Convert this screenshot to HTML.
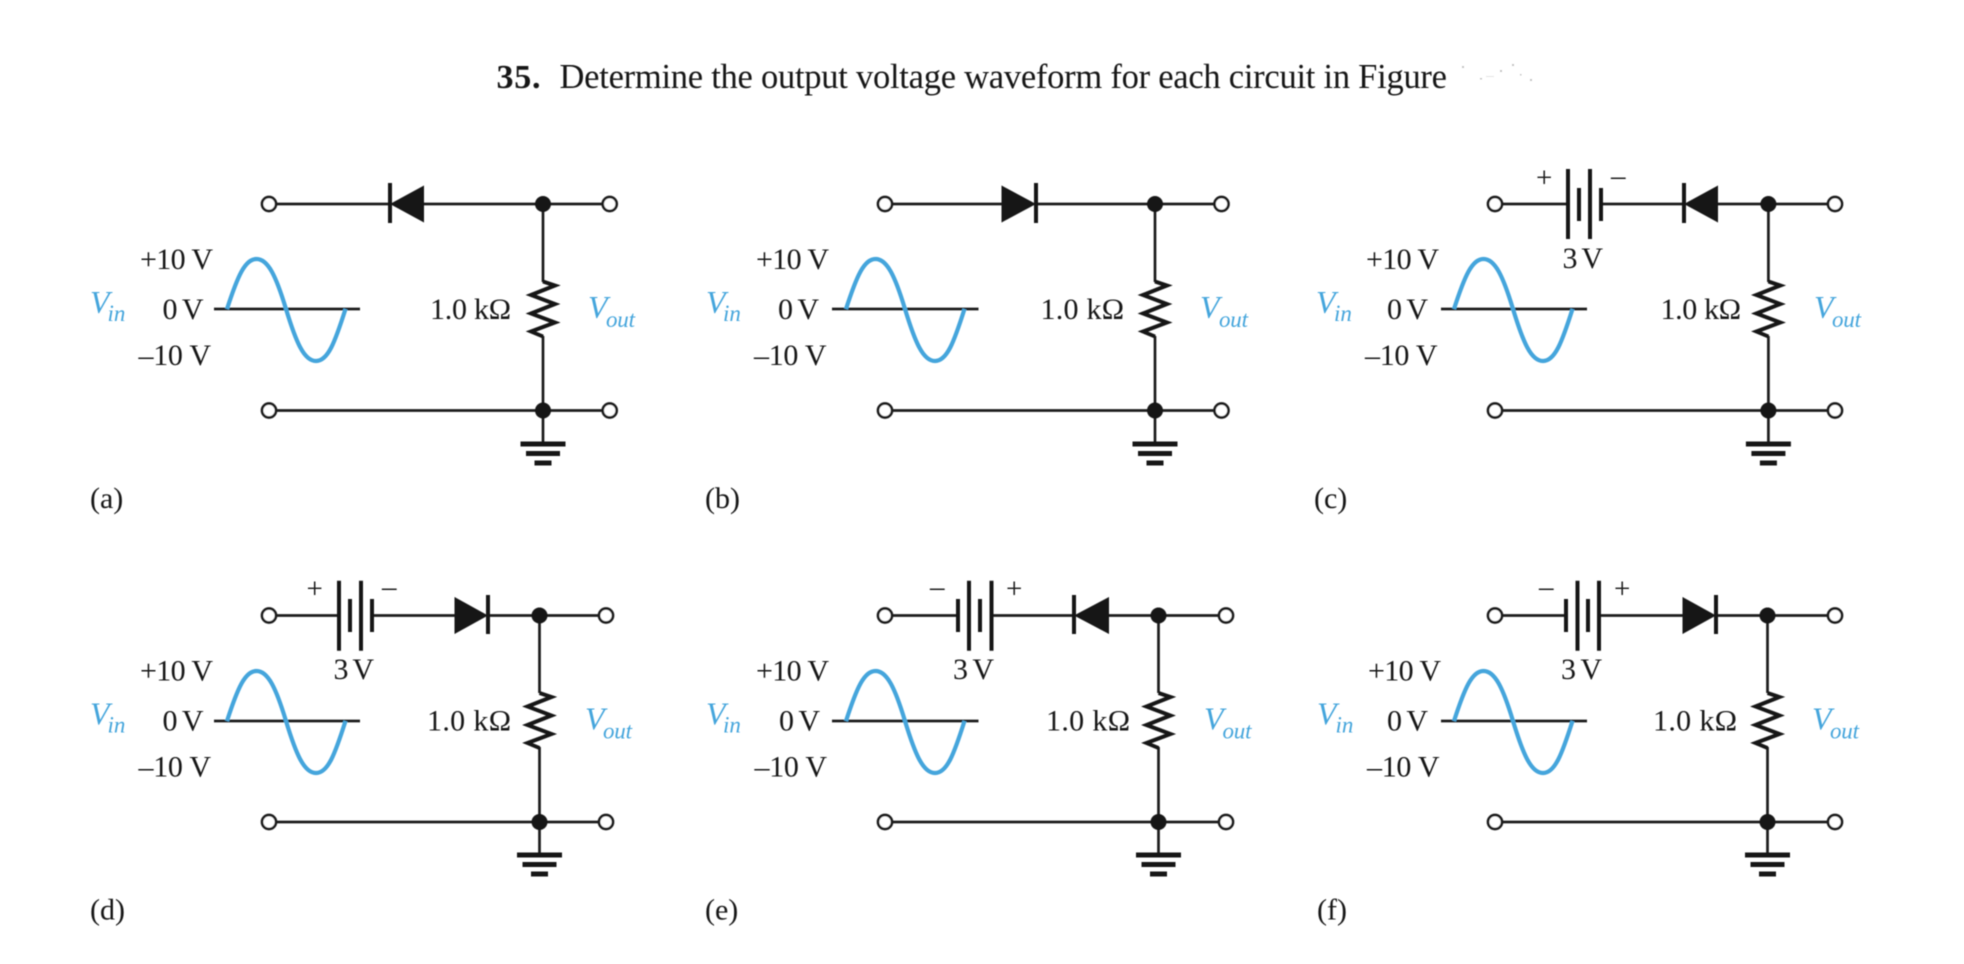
<!DOCTYPE html>
<html lang="en">
<head>
<meta charset="utf-8">
<title>Diode circuits</title>
<style>
html,body{margin:0;padding:0;background:#fff;}
svg{display:block;}
text{font-family:"Liberation Serif",serif;fill:#141414;font-size:30px;}
.b{fill:#45a5dc;font-style:italic;}
.v{font-size:32px;}
.s{font-size:23px;}
.w{fill:none;stroke:#1c1c1c;stroke-width:2.7;}
.p{fill:none;stroke:#141414;stroke-width:4;}
.t{fill:#fff;stroke:#1c1c1c;stroke-width:2.7;}
.d{fill:#141414;stroke:none;}
.sg{font-size:29px;}
</style>
</head>
<body>
<svg width="1964" height="964" viewBox="0 0 1964 964" xmlns="http://www.w3.org/2000/svg">
<defs>
<filter id="soft" x="0" y="0" width="100%" height="100%"><feGaussianBlur stdDeviation="0.45"/></filter>
<g id="res"><path d="M0 77.5 L12 81.5 L-12 91 L12 100 L-12 109.5 L12 118.5 L-12 127.5 L0 132.5" fill="none" stroke="#141414" stroke-width="3.9" stroke-linejoin="miter" stroke-miterlimit="6"/></g>
<g id="gnd"><rect x="-22.5" y="-0.5" width="45" height="5" fill="#141414"/><rect x="-17" y="9" width="34" height="5" fill="#141414"/><rect x="-8.5" y="18.5" width="17" height="5" fill="#141414"/></g>
<g id="sine"><path d="M0 0 C10.7 -33 18 -50 29.5 -50 S49 -33 59 0 S77 52 89 52 S108 33 118.5 0" fill="none" stroke="#45a5dc" stroke-width="4.2"/></g>
</defs>
<g filter="url(#soft)">
<text x="496.5" y="88" style="font-size:34px;font-weight:bold" textLength="44" lengthAdjust="spacing">35.</text>
<text x="559.5" y="88" style="font-size:34.5px" textLength="887.5" lengthAdjust="spacing">Determine the output voltage waveform for each circuit in Figure</text>
<g fill="#c4c4c4"><rect x="1462" y="66" width="2" height="2"/><rect x="1480" y="78" width="2" height="1.5"/><rect x="1500" y="70" width="2" height="2"/><rect x="1512" y="64" width="2" height="2"/><rect x="1530" y="79" width="2" height="2"/><rect x="1520" y="74" width="1.5" height="1.5"/><rect x="1486" y="76" width="8" height="1" fill="#e4e4e4"/></g>

<!-- (a) -->
<path class="w" d="M269 204H390M424 204H610M543 204V282M543 336V442M269 410.5H610M214 309H360"/>
<path class="p" d="M390 183V223"/>
<polygon class="d" points="390,204 424,185.5 424,222.5"/>
<use href="#res" x="543" y="204"/><use href="#gnd" x="543" y="442"/><use href="#sine" x="227" y="309"/>
<circle class="t" cx="269" cy="204" r="7"/><circle class="t" cx="609.7" cy="204" r="7"/><circle class="t" cx="269" cy="410.5" r="7"/><circle class="t" cx="609.7" cy="410.5" r="7"/>
<circle class="d" cx="543" cy="204" r="8"/><circle class="d" cx="543" cy="410.5" r="8"/>
<text x="140" y="269" textLength="73">+10 V</text><text x="162.5" y="319" textLength="41">0 V</text><text x="138.5" y="365" textLength="72.5">–10 V</text>
<text x="430" y="319" textLength="81">1.0 kΩ</text>
<text class="b v" x="90" y="313">V</text><text class="b s" x="107.5" y="321">in</text>
<text class="b v" x="588" y="318">V</text><text class="b s" x="606" y="327" textLength="29">out</text>
<text x="90" y="508">(a)</text>

<!-- (b) -->
<path class="w" d="M885 204H1002M1036 204H1221M1155 204V282M1155 336V442M885 410.5H1221M832 309H978.5"/>
<path class="p" d="M1036 183V223"/>
<polygon class="d" points="1001.5,185.5 1001.5,222.5 1036,204"/>
<use href="#res" x="1155" y="204"/><use href="#gnd" x="1155" y="442"/><use href="#sine" x="846" y="309"/>
<circle class="t" cx="885" cy="204" r="7"/><circle class="t" cx="1221.5" cy="204" r="7"/><circle class="t" cx="885" cy="410.5" r="7"/><circle class="t" cx="1221.5" cy="410.5" r="7"/>
<circle class="d" cx="1155" cy="204" r="8"/><circle class="d" cx="1155" cy="410.5" r="8"/>
<text x="756" y="269" textLength="73">+10 V</text><text x="778" y="319" textLength="41">0 V</text><text x="754" y="365" textLength="72.5">–10 V</text>
<text x="1040.5" y="319" textLength="83.5">1.0 kΩ</text>
<text class="b v" x="706" y="313">V</text><text class="b s" x="723" y="321">in</text>
<text class="b v" x="1200" y="318">V</text><text class="b s" x="1219" y="327" textLength="29">out</text>
<text x="705" y="508">(b)</text>

<!-- (c) -->
<path class="w" d="M1495 204H1568M1601 204H1684M1718 204H1835M1768.4 204V282M1768.4 336V442M1495 410.5H1835M1441 309H1587"/>
<path class="p" d="M1568 169V239M1590 169V239M1579 188V221M1601 188V221"/>
<path class="p" d="M1684 183V223"/>
<polygon class="d" points="1684,204 1718,185.5 1718,222.5"/>
<use href="#res" x="1768.4" y="204"/><use href="#gnd" x="1768.4" y="442"/><use href="#sine" x="1454" y="309"/>
<circle class="t" cx="1495" cy="204" r="7"/><circle class="t" cx="1835" cy="204" r="7"/><circle class="t" cx="1495" cy="410.5" r="7"/><circle class="t" cx="1835" cy="410.5" r="7"/>
<circle class="d" cx="1768.4" cy="204" r="8"/><circle class="d" cx="1768.4" cy="410.5" r="8"/>
<text class="sg" x="1536" y="187">+</text><text class="sg" x="1611" y="185">–</text>
<text x="1562.5" y="268" textLength="40.5">3 V</text>
<text x="1366" y="269" textLength="73">+10 V</text><text x="1387" y="319" textLength="41">0 V</text><text x="1365" y="365" textLength="72.5">–10 V</text>
<text x="1660.5" y="319" textLength="80.5">1.0 kΩ</text>
<text class="b v" x="1316" y="313">V</text><text class="b s" x="1334" y="321">in</text>
<text class="b v" x="1814" y="318">V</text><text class="b s" x="1832" y="327" textLength="29">out</text>
<text x="1314" y="508">(c)</text>

<!-- (d) -->
<path class="w" d="M269 615.5H339M372 615.5H456M488 615.5H606M539.5 615.5V693M539.5 747V853M269 822H606M214 721H360"/>
<path class="p" d="M339 580.7V650.7M361 580.7V650.7M350 599V632M372 599V632"/>
<path class="p" d="M488 595V634"/>
<polygon class="d" points="454.5,597 454.5,634 488,615.5"/>
<use href="#res" x="539.5" y="615.5"/><use href="#gnd" x="539.5" y="853"/><use href="#sine" x="227" y="721"/>
<circle class="t" cx="269" cy="615.5" r="7"/><circle class="t" cx="606" cy="615.5" r="7"/><circle class="t" cx="269" cy="822" r="7"/><circle class="t" cx="606" cy="822" r="7"/>
<circle class="d" cx="539.5" cy="615.5" r="8"/><circle class="d" cx="539.5" cy="822" r="8"/>
<text class="sg" x="306.5" y="598">+</text><text class="sg" x="382" y="596">–</text>
<text x="333.5" y="679" textLength="40.5">3 V</text>
<text x="140" y="680.5" textLength="73">+10 V</text><text x="162.5" y="730.5" textLength="41">0 V</text><text x="138.5" y="776.5" textLength="72.5">–10 V</text>
<text x="427" y="730.5" textLength="84">1.0 kΩ</text>
<text class="b v" x="90" y="724.5">V</text><text class="b s" x="107.5" y="732.5">in</text>
<text class="b v" x="585" y="729.5">V</text><text class="b s" x="603" y="738.5" textLength="29">out</text>
<text x="90" y="919.5">(d)</text>

<!-- (e) -->
<path class="w" d="M885 615.5H958M991.5 615.5H1074M1109 615.5H1226M1158.5 615.5V693M1158.5 747V853M885 822H1226M832 721H978.5"/>
<path class="p" d="M958 599V632M980 599V632M969 580.7V650.7M991.5 580.7V650.7"/>
<path class="p" d="M1074 595V634"/>
<polygon class="d" points="1074,615.5 1109,597 1109,634"/>
<use href="#res" x="1158.5" y="615.5"/><use href="#gnd" x="1158.5" y="853"/><use href="#sine" x="846" y="721"/>
<circle class="t" cx="885" cy="615.5" r="7"/><circle class="t" cx="1226" cy="615.5" r="7"/><circle class="t" cx="885" cy="822" r="7"/><circle class="t" cx="1226" cy="822" r="7"/>
<circle class="d" cx="1158.5" cy="615.5" r="8"/><circle class="d" cx="1158.5" cy="822" r="8"/>
<text class="sg" x="930" y="596">–</text><text class="sg" x="1006" y="598">+</text>
<text x="953" y="679" textLength="41">3 V</text>
<text x="756" y="680.5" textLength="73">+10 V</text><text x="779" y="730.5" textLength="41">0 V</text><text x="754.5" y="776.5" textLength="72.5">–10 V</text>
<text x="1046" y="730.5" textLength="84">1.0 kΩ</text>
<text class="b v" x="706" y="724.5">V</text><text class="b s" x="723" y="732.5">in</text>
<text class="b v" x="1204" y="729.5">V</text><text class="b s" x="1222.5" y="738.5" textLength="29">out</text>
<text x="705" y="919.5">(e)</text>

<!-- (f) -->
<path class="w" d="M1495 615.5H1566M1599 615.5H1683M1716 615.5H1835M1767.5 615.5V693M1767.5 747V853M1495 822H1835M1441 721H1587"/>
<path class="p" d="M1566 599V632M1588 599V632M1577.5 580.7V650.7M1599 580.7V650.7"/>
<path class="p" d="M1716 595V634"/>
<polygon class="d" points="1682.5,597 1682.5,634 1716,615.5"/>
<use href="#res" x="1767.5" y="615.5"/><use href="#gnd" x="1767.5" y="853"/><use href="#sine" x="1454" y="721"/>
<circle class="t" cx="1495" cy="615.5" r="7"/><circle class="t" cx="1835" cy="615.5" r="7"/><circle class="t" cx="1495" cy="822" r="7"/><circle class="t" cx="1835" cy="822" r="7"/>
<circle class="d" cx="1767.5" cy="615.5" r="8"/><circle class="d" cx="1767.5" cy="822" r="8"/>
<text class="sg" x="1539" y="596">–</text><text class="sg" x="1614" y="598">+</text>
<text x="1561" y="679" textLength="41">3 V</text>
<text x="1368" y="680.5" textLength="73">+10 V</text><text x="1387" y="730.5" textLength="41">0 V</text><text x="1367" y="776.5" textLength="72.5">–10 V</text>
<text x="1653" y="730.5" textLength="84">1.0 kΩ</text>
<text class="b v" x="1317" y="724.5">V</text><text class="b s" x="1335.5" y="732.5">in</text>
<text class="b v" x="1812" y="729.5">V</text><text class="b s" x="1830" y="738.5" textLength="29">out</text>
<text x="1317" y="919.5">(f)</text>
</g>
</svg>
</body>
</html>
